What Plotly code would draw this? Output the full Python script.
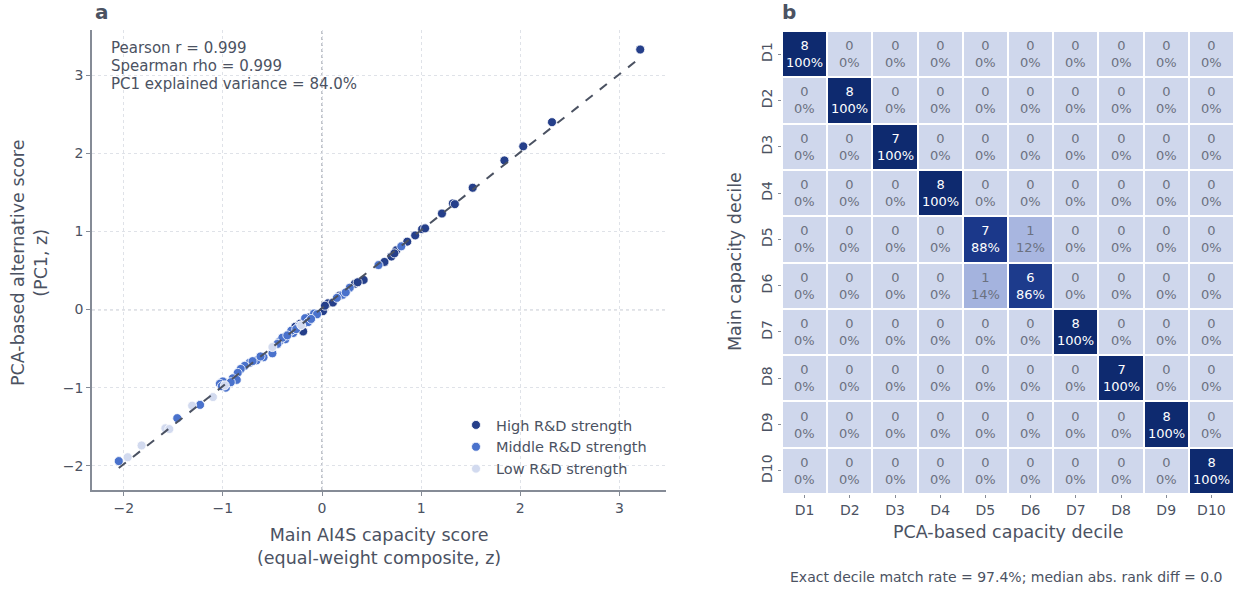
import numpy as np
import plotly.graph_objects as go

# ---- Panel a: main composite score vs PCA-based score, by R&D strength group ----
high_x = [3.21, 2.32, 2.03, 1.84, 1.52, 1.32, 1.34, 1.21, 1.01, 1.04, 0.94, 0.86, 0.75,
          0.70, 0.63, 0.42, 0.33, 0.36, 0.06, 0.11, 0.01, -0.19, -0.17, 0.73, -0.22,
          -0.13, 0.18, 0.03, -0.27]
high_y = [3.33, 2.40, 2.09, 1.91, 1.56, 1.36, 1.35, 1.23, 1.03, 1.04, 0.95, 0.87, 0.76,
          0.68, 0.61, 0.38, 0.33, 0.35, 0.08, 0.09, -0.02, -0.28, -0.17, 0.72, -0.18,
          -0.10, 0.18, 0.05, -0.22]
mid_x = [0.80, 0.57, 0.28, 0.21, 0.15, -0.08, -0.17, -0.14, -0.23, -0.29, -0.37, -0.43,
         -0.50, -0.59, -0.66, -0.73, -0.78, -0.82, -0.85, -0.90, -0.86, -1.00, -0.97,
         -1.03, -1.23, -1.46, -2.05, -0.31, -0.40, -0.26, 0.24, -0.05, -0.70, -0.62,
         -0.45, -0.35, -0.11, -0.92, -1.01]
mid_y = [0.81, 0.57, 0.28, 0.19, 0.15, -0.05, -0.11, -0.16, -0.21, -0.30, -0.38, -0.41,
         -0.56, -0.61, -0.65, -0.68, -0.72, -0.76, -0.81, -0.88, -0.90, -0.92, -1.00,
         -0.95, -1.22, -1.39, -1.94, -0.27, -0.36, -0.25, 0.22, -0.06, -0.66, -0.60,
         -0.44, -0.33, -0.12, -0.93, -0.98]
low_x = [-0.50, -0.98, -1.10, -1.31, -1.58, -1.54, -1.82, -1.96, -0.21]
low_y = [-0.48, -0.97, -1.12, -1.23, -1.52, -1.53, -1.74, -1.89, -0.20]

group_names = ["High R&D strength", "Middle R&D strength", "Low R&D strength"]
group_colors = ["#253f8a", "#4a72cc", "#d2daef"]

stats_lines = ["Pearson r = 0.999", "Spearman rho = 0.999", "PC1 explained variance = 84.0%"]

# ---- Panel b: decile cross-tabulation (rows: main decile, cols: PCA decile) ----
deciles = ["D1", "D2", "D3", "D4", "D5", "D6", "D7", "D8", "D9", "D10"]
counts = [
    [8, 0, 0, 0, 0, 0, 0, 0, 0, 0],
    [0, 8, 0, 0, 0, 0, 0, 0, 0, 0],
    [0, 0, 7, 0, 0, 0, 0, 0, 0, 0],
    [0, 0, 0, 8, 0, 0, 0, 0, 0, 0],
    [0, 0, 0, 0, 7, 1, 0, 0, 0, 0],
    [0, 0, 0, 0, 1, 6, 0, 0, 0, 0],
    [0, 0, 0, 0, 0, 0, 8, 0, 0, 0],
    [0, 0, 0, 0, 0, 0, 0, 7, 0, 0],
    [0, 0, 0, 0, 0, 0, 0, 0, 8, 0],
    [0, 0, 0, 0, 0, 0, 0, 0, 0, 8],
]
footnote = "Exact decile match rate = 97.4%; median abs. rank diff = 0.0"

TXT = "#4b5262"
AX = "#858b96"
GRID = "#dfe2e8"
FONT = "DejaVu Sans"
TITLE_SIZE = 17.5

fig = go.Figure()

# scatter groups
for gx, gy, name, col in zip([high_x, mid_x, low_x], [high_y, mid_y, low_y], group_names, group_colors):
    fig.add_trace(go.Scatter(
        x=gx, y=gy, mode="markers", name=name,
        marker=dict(size=9, color=col, line=dict(color="white", width=0.8)),
        xaxis="x", yaxis="y",
    ))

# least-squares fit line across the observed x range
all_x = np.array(high_x + mid_x + low_x)
all_y = np.array(high_y + mid_y + low_y)
slope, intercept = np.polyfit(all_x, all_y, 1)
fx = np.array([all_x.min(), all_x.max()])
fig.add_trace(go.Scatter(
    x=fx, y=slope * fx + intercept, mode="lines", showlegend=False,
    line=dict(color="#4b5262", width=2, dash="dash"), xaxis="x", yaxis="y",
))

# heatmap of row-normalised shares, annotated with count and percent
cnt = np.array(counts, dtype=float)
share = cnt / cnt.sum(axis=1, keepdims=True)
fig.add_trace(go.Heatmap(
    z=share, x=deciles, y=deciles, xaxis="x2", yaxis="y2",
    colorscale=[[0, "#cfd7ec"], [0.13, "#a6b5df"], [0.87, "#1b398b"], [1, "#0e2a6f"]],
    zmin=0, zmax=1, showscale=False, xgap=2, ygap=2, hoverinfo="skip",
))
for i, rlab in enumerate(deciles):
    for j, clab in enumerate(deciles):
        v = share[i, j]
        fig.add_annotation(
            x=clab, y=rlab, xref="x2", yref="y2", showarrow=False,
            text=f"{int(cnt[i, j])}<br>{v * 100:.0f}%",
            font=dict(family=FONT, size=13, color="white" if v > 0.5 else "#6b7180"),
            align="center",
        )

fig.update_layout(
    width=1238, height=592, margin=dict(l=0, r=0, t=0, b=0),
    paper_bgcolor="white", plot_bgcolor="white",
    font=dict(family=FONT, color=TXT, size=13),
    xaxis=dict(domain=[92 / 1238, 666 / 1238], range=[-2.32, 3.47], tickvals=[-2, -1, 0, 1, 2, 3],
               ticktext=["\u22122", "\u22121", "0", "1", "2", "3"],
               showgrid=True, gridcolor=GRID, griddash="dot", zeroline=False,
               showline=True, linecolor=AX, linewidth=1.5, ticks="outside", ticklen=4,
               tickcolor=AX, tickfont=dict(size=14, color=TXT)),
    yaxis=dict(domain=[1 - 490 / 592, 1 - 30 / 592], range=[-2.31, 3.58], tickvals=[-2, -1, 0, 1, 2, 3],
               ticktext=["\u22122", "\u22121", "0", "1", "2", "3"],
               showgrid=True, gridcolor=GRID, griddash="dot", zeroline=False,
               showline=True, linecolor=AX, linewidth=1.5, ticks="outside", ticklen=4,
               tickcolor=AX, tickfont=dict(size=14, color=TXT)),
    xaxis2=dict(domain=[782 / 1238, 1234 / 1238], anchor="y2", showgrid=False, zeroline=False,
                ticks="outside", ticklen=3, tickcolor=AX, tickfont=dict(size=14, color=TXT),
                showline=False),
    yaxis2=dict(domain=[1 - 494 / 592, 1 - 31 / 592], anchor="x2", autorange="reversed",
                showgrid=False, zeroline=False, ticks="outside", ticklen=3, tickcolor=AX,
                tickangle=-90, tickfont=dict(size=14, color=TXT), showline=False),
    legend=dict(x=456 / 1238, y=1 - 409 / 592, xanchor="left", yanchor="top",
                bgcolor="rgba(255,255,255,0)", font=dict(size=14.5, color=TXT),
                itemwidth=30, tracegroupgap=0),
    showlegend=True,
)

# reference lines at zero
fig.add_shape(type="line", xref="x", yref="paper", x0=0, x1=0, y0=1 - 490 / 592, y1=1 - 30 / 592,
              line=dict(color="#9aa0aa", width=1.2, dash="dot"), layer="below")
fig.add_shape(type="line", xref="paper", yref="y", x0=92 / 1238, x1=666 / 1238, y0=0, y1=0,
              line=dict(color="#9aa0aa", width=1.2, dash="dot"), layer="below")

# statistics text, one line each
for k, line in enumerate(stats_lines):
    fig.add_annotation(xref="paper", yref="paper", x=109 / 1238, y=1 - (48 + 18 * k) / 592,
                       xanchor="left", yanchor="middle", showarrow=False, align="left",
                       text=line, font=dict(size=15, color=TXT))

# axis titles
fig.add_annotation(xref="paper", yref="paper", x=379 / 1238, y=1 - 546 / 592, showarrow=False,
                   xanchor="center", yanchor="middle",
                   text="Main AI4S capacity score<br>(equal-weight composite, z)",
                   font=dict(size=TITLE_SIZE, color=TXT), align="center")
fig.add_annotation(xref="paper", yref="paper", x=29 / 1238, y=1 - 263 / 592, showarrow=False,
                   xanchor="center", yanchor="middle",
                   textangle=-90, text="PCA-based alternative score<br>(PC1, z)",
                   font=dict(size=TITLE_SIZE, color=TXT), align="center")
fig.add_annotation(xref="paper", yref="paper", x=1008 / 1238, y=1 - 532 / 592, showarrow=False,
                   xanchor="center", yanchor="middle",
                   text="PCA-based capacity decile", font=dict(size=TITLE_SIZE, color=TXT))
fig.add_annotation(xref="paper", yref="paper", x=735 / 1238, y=1 - 262 / 592, showarrow=False,
                   xanchor="center", yanchor="middle",
                   textangle=-90, text="Main capacity decile", font=dict(size=TITLE_SIZE, color=TXT))
fig.add_annotation(xref="paper", yref="paper", x=1006 / 1238, y=1 - 577 / 592, showarrow=False,
                   xanchor="center", yanchor="middle",
                   text=footnote, font=dict(size=14, color=TXT))

# panel letters
fig.add_annotation(xref="paper", yref="paper", x=93 / 1238, y=1 - 12 / 592, xanchor="left",
                   yanchor="middle", showarrow=False, text="<b>a</b>", font=dict(size=20, color=TXT))
fig.add_annotation(xref="paper", yref="paper", x=780 / 1238, y=1 - 12 / 592, xanchor="left",
                   yanchor="middle", showarrow=False, text="<b>b</b>", font=dict(size=20, color=TXT))

fig.write_html("out.html")
